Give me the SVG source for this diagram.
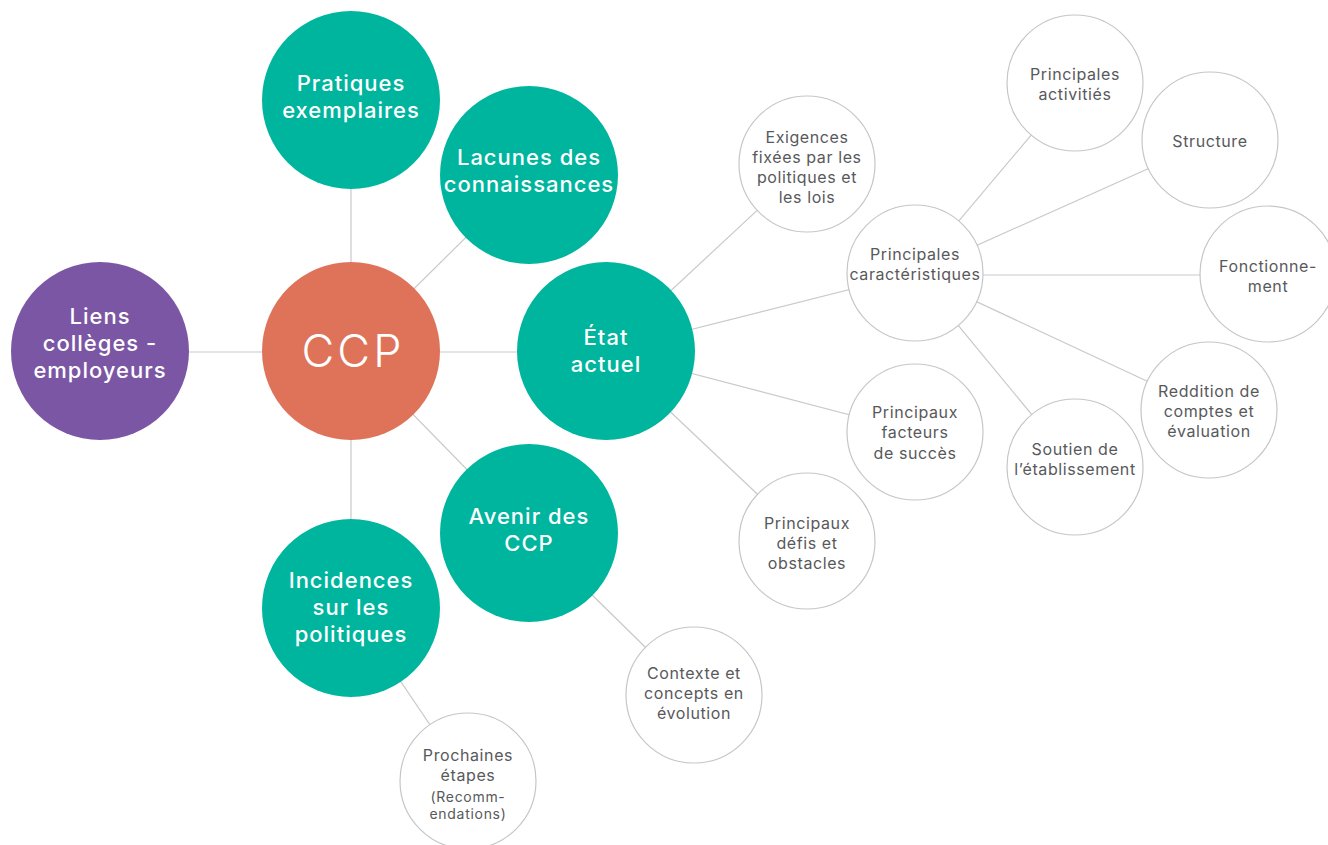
<svg xmlns="http://www.w3.org/2000/svg" width="1328" height="845" viewBox="0 0 1328 845">
  <style>
    .link { stroke: #c9c9c9; stroke-width: 1.2; fill: none; }
    .main { fill: #00b59d; }
    .core { fill: #de735a; }
    .side { fill: #7b56a4; }
    .leaf { fill: #ffffff; stroke: #c6c6c6; stroke-width: 1.2; }
    .big { font-family: Inter, "Open Sans", "Liberation Sans", sans-serif; font-weight: 500; font-size: 22px; letter-spacing: 1px; fill: #ffffff; text-anchor: middle; }
    .hub { font-family: Inter, "Open Sans", "Liberation Sans", sans-serif; font-weight: 300; font-size: 45px; letter-spacing: 3px; fill: #ffffff; text-anchor: middle; }
    .small { font-family: Inter, "Open Sans", "Liberation Sans", sans-serif; font-weight: 400; font-size: 16px; letter-spacing: 0.6px; fill: #58595b; text-anchor: middle; }
    .tiny { font-family: Inter, "Open Sans", "Liberation Sans", sans-serif; font-weight: 400; font-size: 14px; letter-spacing: 0.7px; fill: #58595b; text-anchor: middle; }
  </style>

  <rect width="1328" height="845" fill="#ffffff"/>

  <!-- connectors, drawn centre to centre underneath the circles -->
  <g id="connectors">
    <line class="link" x1="100" y1="352" x2="351" y2="352"/>
    <line class="link" x1="351" y1="352" x2="606" y2="352"/>
    <line class="link" x1="351" y1="100" x2="351" y2="608"/>
    <line class="link" x1="351" y1="351" x2="529" y2="175"/>
    <line class="link" x1="351" y1="351" x2="529" y2="533"/>
    <line class="link" x1="606" y1="351" x2="807" y2="164"/>
    <line class="link" x1="606" y1="351" x2="915" y2="273"/>
    <line class="link" x1="606" y1="351" x2="915" y2="432"/>
    <line class="link" x1="606" y1="351" x2="807" y2="541"/>
    <line class="link" x1="529" y1="533" x2="694" y2="695"/>
    <line class="link" x1="351" y1="608" x2="468" y2="781"/>
    <line class="link" x1="915" y1="273" x2="1075" y2="83"/>
    <line class="link" x1="915" y1="273" x2="1210" y2="141"/>
    <line class="link" x1="915" y1="275" x2="1268" y2="275"/>
    <line class="link" x1="915" y1="273" x2="1209" y2="410"/>
    <line class="link" x1="915" y1="273" x2="1075" y2="467"/>
  </g>

  <g id="liens">
    <circle class="side" cx="100" cy="351" r="89"/>
    <text class="big"><tspan x="100" y="324">Liens</tspan><tspan x="100" y="351">collèges -</tspan><tspan x="100" y="378">employeurs</tspan></text>
  </g>

  <g id="ccp">
    <circle class="core" cx="351" cy="351" r="89"/>
    <text class="hub" x="353" y="367">CCP</text>
  </g>

  <g id="pratiques">
    <circle class="main" cx="351" cy="100" r="89"/>
    <text class="big"><tspan x="351" y="91">Pratiques</tspan><tspan x="351" y="118">exemplaires</tspan></text>
  </g>

  <g id="lacunes">
    <circle class="main" cx="529" cy="175" r="89"/>
    <text class="big"><tspan x="529" y="165">Lacunes des</tspan><tspan x="529" y="192">connaissances</tspan></text>
  </g>

  <g id="etat">
    <circle class="main" cx="606" cy="351" r="89"/>
    <text class="big"><tspan x="606" y="345">État</tspan><tspan x="606" y="372">actuel</tspan></text>
  </g>

  <g id="avenir">
    <circle class="main" cx="529" cy="533" r="89"/>
    <text class="big"><tspan x="529" y="524">Avenir des</tspan><tspan x="529" y="551">CCP</tspan></text>
  </g>

  <g id="incidences">
    <circle class="main" cx="351" cy="608" r="89"/>
    <text class="big"><tspan x="351" y="588">Incidences</tspan><tspan x="351" y="615">sur les</tspan><tspan x="351" y="642">politiques</tspan></text>
  </g>

  <g id="exigences">
    <circle class="leaf" cx="807" cy="164" r="68"/>
    <text class="small"><tspan x="807" y="143">Exigences</tspan><tspan x="807" y="163">fixées par les</tspan><tspan x="807" y="183">politiques et</tspan><tspan x="807" y="203">les lois</tspan></text>
  </g>

  <g id="caracteristiques">
    <circle class="leaf" cx="915" cy="273" r="68"/>
    <text class="small"><tspan x="915" y="260">Principales</tspan><tspan x="915" y="280">caractéristiques</tspan></text>
  </g>

  <g id="facteurs">
    <circle class="leaf" cx="915" cy="432" r="68"/>
    <text class="small"><tspan x="915" y="418">Principaux</tspan><tspan x="915" y="438">facteurs</tspan><tspan x="915" y="459">de succès</tspan></text>
  </g>

  <g id="defis">
    <circle class="leaf" cx="807" cy="541" r="68"/>
    <text class="small"><tspan x="807" y="529">Principaux</tspan><tspan x="807" y="549">défis et</tspan><tspan x="807" y="569">obstacles</tspan></text>
  </g>

  <g id="contexte">
    <circle class="leaf" cx="694" cy="695" r="68"/>
    <text class="small"><tspan x="694" y="679">Contexte et</tspan><tspan x="694" y="699">concepts en</tspan><tspan x="694" y="719">évolution</tspan></text>
  </g>

  <g id="prochaines">
    <circle class="leaf" cx="468" cy="781" r="68"/>
    <text class="small"><tspan x="468" y="761">Prochaines</tspan><tspan x="468" y="781">étapes</tspan></text>
    <text class="tiny"><tspan x="468" y="802">(Recomm-</tspan><tspan x="468" y="819">endations)</tspan></text>
  </g>

  <g id="activites">
    <circle class="leaf" cx="1075" cy="83" r="68"/>
    <text class="small"><tspan x="1075" y="80">Principales</tspan><tspan x="1075" y="100">activitiés</tspan></text>
  </g>

  <g id="structure">
    <circle class="leaf" cx="1210" cy="140" r="68"/>
    <text class="small" x="1210" y="147">Structure</text>
  </g>

  <g id="fonctionnement">
    <circle class="leaf" cx="1268" cy="274" r="68"/>
    <text class="small"><tspan x="1268" y="272">Fonctionne-</tspan><tspan x="1268" y="292">ment</tspan></text>
  </g>

  <g id="reddition">
    <circle class="leaf" cx="1209" cy="410" r="68"/>
    <text class="small"><tspan x="1209" y="397">Reddition de</tspan><tspan x="1209" y="417">comptes et</tspan><tspan x="1209" y="437">évaluation</tspan></text>
  </g>

  <g id="soutien">
    <circle class="leaf" cx="1075" cy="467" r="68"/>
    <text class="small"><tspan x="1075" y="455">Soutien de</tspan><tspan x="1075" y="475">l’établissement</tspan></text>
  </g>
</svg>
